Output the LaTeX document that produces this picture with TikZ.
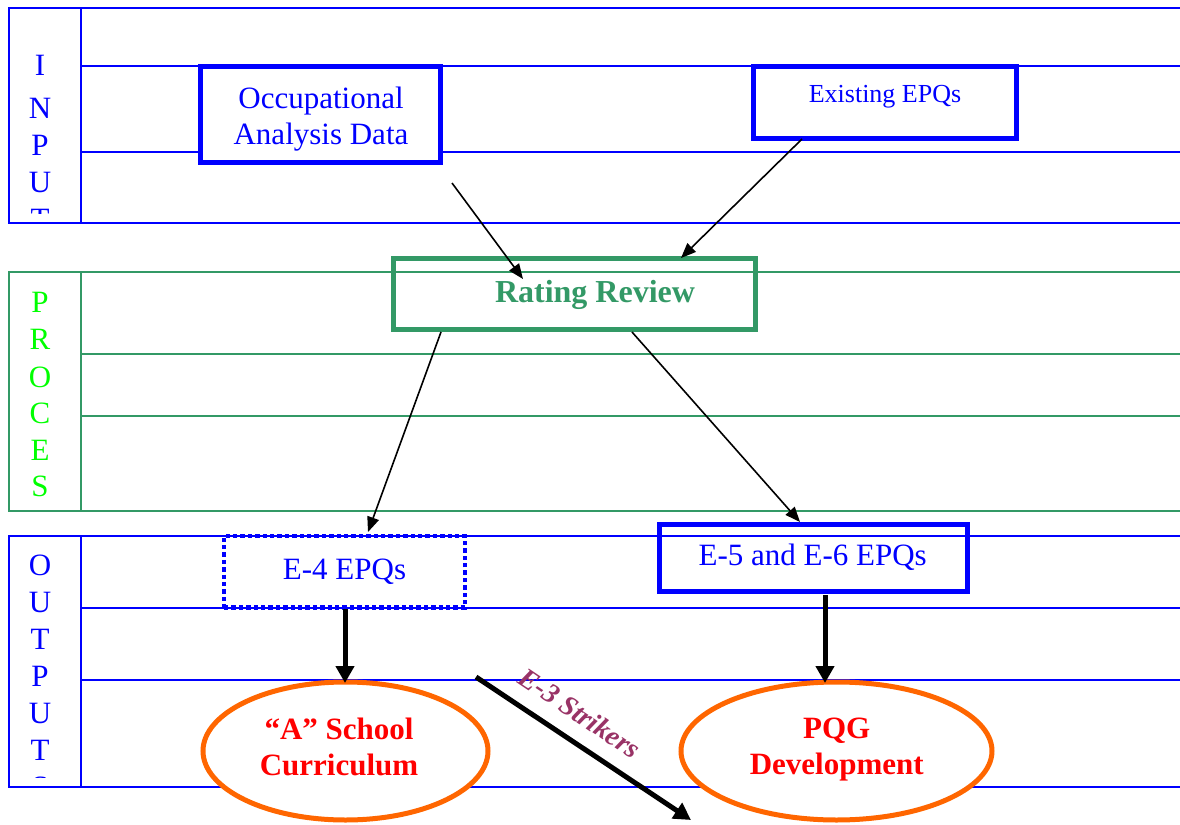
\documentclass[tikz,border=0pt]{standalone}
\usepackage{fontspec}
\setmainfont{Liberation Serif}
\usetikzlibrary{arrows.meta,shapes.geometric}
\definecolor{pblue}{HTML}{0000FF}
\definecolor{pgreen}{HTML}{339966}
\definecolor{lgreen}{HTML}{00FF00}
\definecolor{pred}{HTML}{FF0000}
\definecolor{porange}{HTML}{FF6600}
\definecolor{ppurple}{HTML}{993366}
\begin{document}
\begin{tikzpicture}[x=0.5pt,y=-0.5pt,
  tline/.style={line width=1pt},
  box/.style={draw=pblue, line width=2.6pt, inner sep=0pt, rectangle},
  oval/.style={ellipse, draw=porange, line width=2.5pt, fill=white, inner sep=0pt, minimum height=69pt},
  thinarrow/.style={draw=black, line width=0.8pt, -{Triangle[length=7.5pt,width=6pt]}},
  thickarrow/.style={draw=black, line width=2.5pt, -{Triangle[length=8.5pt,width=9pt]}},
  letter/.style={font=\fontsize{15.5}{18}\selectfont, anchor=base, inner sep=0pt},
  boxtext/.style={font=\fontsize{15.5}{18}\selectfont, text=pblue, align=center, inner sep=0pt},
  ovaltext/.style={font=\fontsize{15.5}{18}\selectfont\bfseries, text=pred, align=center, inner sep=0pt}
]
\useasboundingbox (0,0) rectangle (1180,825);

% ---- INPUT table ----
\draw[tline,pblue] (9,8) rectangle (1190,223);
\draw[tline,pblue] (81,8) -- (81,223) (81,66) -- (1190,66) (81,151.5) -- (1190,151.5);
% ---- PROCESS table ----
\draw[tline,pgreen] (9,272) rectangle (1190,511);
\draw[tline,pgreen] (81,272) -- (81,511) (81,354) -- (1190,354) (81,416) -- (1190,416);
% ---- OUTPUT table ----
\draw[tline,pblue] (9,536) rectangle (1190,787);
\draw[tline,pblue] (81,536) -- (81,787) (81,608) -- (1190,608) (81,680) -- (1190,680);

% ---- side letters ----
\begin{scope}
\clip (9,8) rectangle (81,213.5);
\foreach \l/\y [count=\i] in {I/75,N/118,P/155,U/192.5,T/229}
  \node[letter,text=pblue] (in\i) at (40,\y) {\l};
\end{scope}
\begin{scope}
\clip (9,272) rectangle (81,508);
\foreach \l/\y [count=\i] in {P/312,R/349.3,O/387,C/423.5,E/460,S/496.5}
  \node[letter,text=lgreen] (pr\i) at (40,\y) {\l};
\end{scope}
\begin{scope}
\clip (9,536) rectangle (81,777.5);
\foreach \l/\y [count=\i] in {O/575,U/612,T/649,P/686.5,U/723,T/760,S/797}
  \node[letter,text=pblue] (out\i) at (40,\y) {\l};
\end{scope}

% ---- boxes ----
\node[box, fill=white, minimum width=120pt, minimum height=48pt] (oadbox) at (320.5,114.5) {};
\node[box, fill=white, minimum width=131.5pt, minimum height=36pt] (exbox) at (885,102.5) {};
\node[box, draw=pgreen, minimum width=181pt, minimum height=35.5pt] (rrbox) at (574.5,294) {};
\node[draw=pblue, line width=2.2pt, dash pattern=on 2.2pt off 1.5pt, inner sep=0pt,
      minimum width=120.5pt, minimum height=35.75pt] (e4box) at (344.5,571.8) {};
\node[box, minimum width=154pt, minimum height=33.5pt] (e56box) at (813.5,558) {};
\node[oval, minimum width=142.5pt] (acell) at (345.5,751) {};
\node[oval, minimum width=155.5pt] (pqgell) at (836.5,751) {};

% ---- arrows ----
\coordinate (a1s) at (452,183);  \coordinate (a1e) at (523,279);
\coordinate (a2s) at (802,139);  \coordinate (a2e) at (681,258);
\coordinate (a3s) at (441,332);  \coordinate (a3e) at (368,532);
\coordinate (a4s) at (632,332);  \coordinate (a4e) at (800,522);
\coordinate (a5s) at (345,609);  \coordinate (a5e) at (345,683);
\coordinate (a6s) at (825,595);  \coordinate (a6e) at (825,683);
\coordinate (a7s) at (476,677);  \coordinate (a7e) at (691,820);
\draw[thinarrow] (a1s) -- (a1e);
\draw[thinarrow] (a2s) -- (a2e);
\draw[thinarrow] (a3s) -- (a3e);
\draw[thinarrow] (a4s) -- (a4e);
\draw[thickarrow] (a5s) -- (a5e);
\draw[thickarrow] (a6s) -- (a6e);
\draw[thickarrow] (a7s) -- (a7e);

% ---- texts ----
\node[boxtext] (oadtxt) at (321,119) {Occupational\\Analysis Data};
\node[boxtext, font=\fontsize{13}{15}\selectfont] (extxt) at (885,97) {Existing EPQs};
\node[boxtext, text=pgreen, font=\fontsize{16}{18}\selectfont\bfseries] (rrtxt) at (595,294.5) {Rating Review};
\node[boxtext] (e4txt) at (344.5,572) {E-4 EPQs};
\node[boxtext] (e56txt) at (812.7,557.5) {E-5 and E-6 EPQs};
\node[ovaltext] (actxt) at (339,747) {“A” School\\Curriculum};
\node[ovaltext] (pqgtxt) at (836.7,750) {PQG\\Development};
\node[font=\fontsize{14}{16}\selectfont\bfseries\itshape, text=ppurple, rotate=-34, inner sep=0pt] (e3txt) at (580,713) {E-3 Strikers};
\end{tikzpicture}
\end{document}
